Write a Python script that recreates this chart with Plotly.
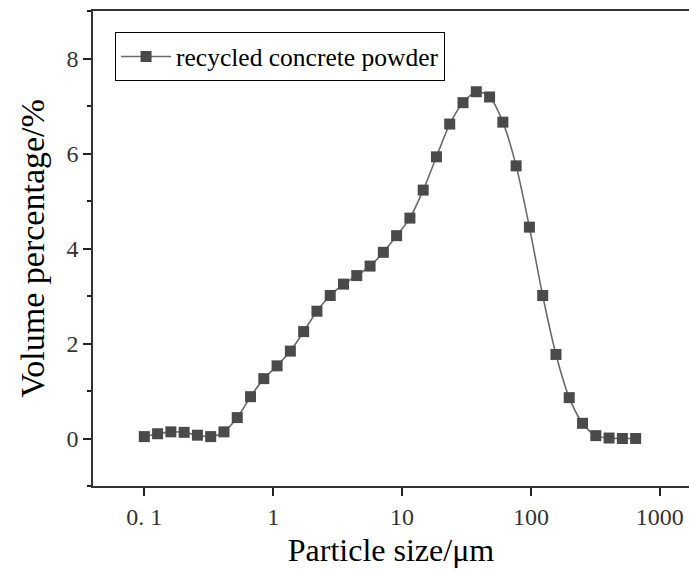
import plotly.graph_objects as go

# Particle size (µm)
particle_size = [0.1, 0.1268, 0.1607, 0.2037, 0.2583, 0.3274, 0.4151, 0.5262, 0.6671, 0.8457,
                 1.072, 1.359, 1.723, 2.185, 2.770, 3.511, 4.451, 5.643, 7.154, 9.069,
                 11.50, 14.58, 18.48, 23.42, 29.70, 37.65, 47.73, 60.50, 76.70, 97.24,
                 123.3, 156.3, 198.1, 251.2, 318.4, 403.6, 511.7, 648.7]
# Volume percentage (%)
volume_pct = [0.04, 0.10, 0.14, 0.13, 0.07, 0.04, 0.14, 0.44, 0.88, 1.26,
              1.53, 1.84, 2.25, 2.68, 3.01, 3.25, 3.43, 3.63, 3.92, 4.27,
              4.64, 5.23, 5.93, 6.62, 7.07, 7.30, 7.19, 6.66, 5.74, 4.45,
              3.01, 1.77, 0.86, 0.32, 0.06, 0.01, 0.0, 0.0]

x_tick_vals = [0.1, 1, 10, 100, 1000]
x_tick_text = ["0. 1", "1", "10", "100", "1000"]
y_tick_vals = [0, 2, 4, 6, 8]

series_name = "recycled concrete powder"

FONT = "Liberation Serif, Times New Roman, serif"

fig = go.Figure()
fig.add_trace(go.Scatter(
    x=particle_size, y=volume_pct, name=series_name,
    mode="lines+markers",
    line=dict(color="#6a6a6a", width=1.6, shape="spline", smoothing=0.8),
    marker=dict(symbol="square", size=11, color="#4a4a4a",
                line=dict(width=0)),
))

fig.update_layout(
    width=689, height=572,
    margin=dict(l=93, r=0, t=11, b=86),
    paper_bgcolor="white", plot_bgcolor="white",
    font=dict(family=FONT, color="#000"),
    showlegend=True,
    legend=dict(x=0.037, y=0.955, xanchor="left", yanchor="top",
                bordercolor="#000", borderwidth=1, bgcolor="white",
                font=dict(size=25.5, family=FONT, color="#000"),
                itemwidth=50, tracegroupgap=0),
)

fig.update_xaxes(
    type="log", range=[-1.398, 3.226],
    tickvals=x_tick_vals, ticktext=x_tick_text,
    ticks="outside", ticklen=8, tickwidth=1.5, tickcolor="#222",
    showline=True, linecolor="#333", linewidth=1.5, mirror=True,
    showgrid=False, zeroline=False,
    tickfont=dict(size=24, family=FONT, color="#333"),
    title=dict(text="Particle size/μm", font=dict(size=32, family=FONT, color="#000"), standoff=10),
)

fig.update_yaxes(
    range=[-1, 9],
    tickvals=y_tick_vals,
    ticks="outside", ticklen=8, tickwidth=1.5, tickcolor="#222",
    minor=dict(ticks="outside", ticklen=4, tickwidth=1.5, tickcolor="#222", dtick=1, showgrid=False),
    showline=True, linecolor="#333", linewidth=1.5, mirror=False,
    showgrid=False, zeroline=False,
    tickfont=dict(size=24, family=FONT, color="#333"),
    title=dict(text="Volume percentage/%", font=dict(size=34, family=FONT, color="#000"), standoff=12),
)

fig.write_html("out.html")
